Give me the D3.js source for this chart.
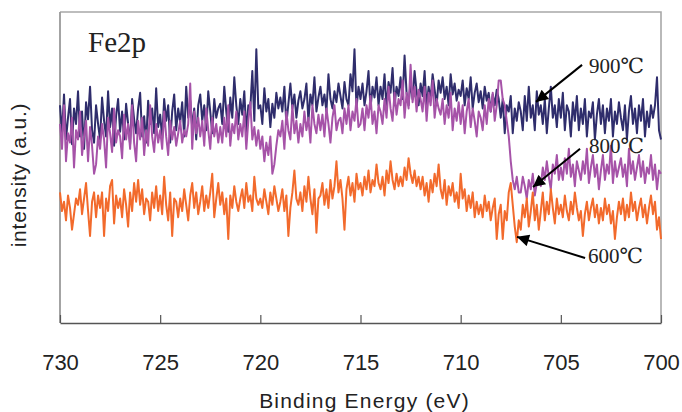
<!DOCTYPE html>
<html>
<head>
<meta charset="utf-8">
<script src="https://cdn.jsdelivr.net/npm/d3@7"></script>
<style>
  body { margin: 0; background: #fff; }
  svg { display: block; }
</style>
</head>
<body>
<svg id="chart" width="682" height="412"></svg>
<script>
// sampling grid of the spectra (binding energy, eV)
const energyStart = 730;
const energyEnd = 700;
const energyStep = 0.1;

const xTicks = [730, 725, 720, 715, 710, 705, 700];

// intensities (a.u.), one value per 0.1 eV from 730 down to 700
const fe900 = [
  700,610,735,590,660,720,575,690,640,745,
  600,680,560,710,655,760,620,580,700,640,
  590,725,650,600,745,630,690,570,665,720,
  615,680,590,705,640,575,720,655,610,690,
  740,600,665,580,715,640,690,610,755,630,
  670,595,720,650,700,580,680,735,620,690,
  645,710,600,760,660,715,630,690,590,700,
  735,650,700,620,745,680,610,720,660,690,
  705,640,760,680,615,725,660,790,700,640,
  720,670,745,610,700,690,810,650,880,690,
  700,640,755,680,720,630,705,660,740,690,
  725,680,760,640,705,770,690,735,660,715,
  745,690,720,770,650,735,700,790,680,725,
  760,700,735,680,800,720,690,745,710,770,
  730,690,775,720,700,800,745,880,690,760,
  720,770,700,745,810,690,760,725,790,700,
  760,720,800,690,775,740,820,700,760,730,
  790,720,860,740,700,775,720,810,745,700,
  770,730,810,690,760,720,800,750,700,780,
  740,790,720,760,700,800,735,770,715,750,
  730,780,700,755,720,790,690,740,770,710,
  745,690,760,715,740,680,735,700,750,720,
  660,720,610,700,680,730,610,690,650,710,
  680,620,730,650,760,660,700,620,745,670,
  700,640,720,610,690,760,660,700,630,720,
  660,740,620,700,680,600,710,650,730,620,
  690,640,720,600,680,660,710,590,670,720,
  640,700,610,690,650,720,600,680,640,710,
  660,620,700,590,680,730,640,690,610,700,
  650,720,600,680,630,700,660,700,790,620,
  590
];

const fe800 = [
  640,560,700,520,610,580,660,500,620,590,
  680,540,600,650,520,630,570,480,510,600,
  560,640,590,500,660,610,550,690,580,620,
  600,530,670,590,640,560,700,580,520,650,
  590,660,540,620,570,700,600,550,640,580,
  620,560,680,600,540,650,590,630,570,610,
  650,580,620,600,640,770,560,680,610,660,
  600,650,570,690,620,560,660,600,640,580,
  630,580,660,600,700,570,640,610,680,590,
  640,600,680,560,650,710,590,630,570,620,
  560,600,520,580,540,600,480,510,570,620,
  600,650,560,680,620,590,700,610,650,580,
  640,600,680,620,660,580,700,640,610,670,
  620,670,600,690,640,580,660,700,620,650,
  660,610,690,640,700,620,680,650,720,630,
  640,690,620,700,660,730,640,680,610,700,
  680,640,720,660,760,690,650,740,670,720,
  700,780,660,740,690,830,710,760,680,750,
  720,680,760,650,740,700,780,660,720,690,
  670,720,640,700,660,740,620,690,650,710,
  640,700,610,680,720,630,690,650,600,680,
  660,620,700,640,720,680,740,650,700,780,
  780,720,700,650,600,520,460,430,470,420,
  420,470,440,400,460,430,480,410,450,470,
  440,500,460,520,470,430,510,480,540,460,
  500,460,530,480,560,470,510,440,520,490,
  460,520,480,560,450,500,540,470,510,430,
  490,540,460,510,480,570,450,520,470,500,
  530,470,510,440,560,480,520,460,500,540,
  470,520,450,500,480,540,460,510,430,490,
  480
];

const fe600 = [
  420,360,390,330,410,370,300,350,400,380,
  430,350,400,450,360,280,390,420,340,410,
  370,420,280,400,360,440,460,320,410,370,
  400,340,430,380,310,420,360,450,390,460,
  380,430,350,400,390,330,420,370,440,360,
  410,350,470,380,330,420,280,400,390,340,
  400,360,430,380,330,410,450,370,420,350,
  390,440,360,410,370,420,480,340,400,450,
  380,420,350,400,270,410,370,440,390,360,
  400,430,370,450,390,410,360,470,400,380,
  400,370,430,390,350,420,380,440,400,360,
  390,430,360,410,280,370,420,490,400,380,
  420,360,440,390,470,400,350,430,290,400,
  410,450,380,430,370,460,400,440,520,420,
  460,400,300,430,470,410,450,390,480,430,
  450,410,470,430,490,420,460,440,510,450,
  430,470,410,490,450,520,460,430,480,440,
  470,440,500,460,530,480,450,490,440,470,
  430,470,410,450,390,460,420,480,440,510,
  430,400,460,380,440,410,450,390,420,370,
  480,400,430,360,410,370,420,340,390,350,
  380,340,410,360,390,330,370,400,270,350,
  380,270,360,330,420,450,380,310,260,330,
  300,380,340,400,310,360,420,330,380,300,
  360,420,330,390,350,430,370,320,400,350,
  380,340,410,360,330,390,350,420,370,330,
  360,280,350,390,330,370,400,340,380,320,
  370,330,400,350,380,320,360,270,340,390,
  350,400,330,380,340,420,360,390,330,370,
  400,340,380,320,370,410,350,390,300,340,
  270
];

const seriesNames = ["900℃", "800℃", "600℃"];
const seriesColors = ["#2f2d6c", "#a653a8", "#f26a2c"];

// annotation anchors in data units: label position, arrow start, arrow tip
const labelAt = [[703.6, 804], [703.6, 547], [703.65, 193]];
const arrowFrom = [[703.94, 830], [704.04, 560], [703.79, 209]];
const arrowTo = [[706.24, 711], [706.39, 437], [707.19, 277]];

const width = 682, height = 412;
const margin = ({top: 12, right: 21, bottom: 89, left: 60});

const energy = d3.range(0, fe900.length).map(i => +(energyStart - i * energyStep).toFixed(1));

const svg = d3.select("#chart");

const xScale = d3.scaleLinear()
  .domain([energyStart, energyEnd])
  .range([margin.left, width - margin.right]);

const yScale = d3.scaleLinear()
  .domain([0, 1000])
  .range([height - margin.bottom, margin.top]);

// frame (top and right)
svg.append("path")
  .attr("d", `M${margin.left},${margin.top}H${width - margin.right}V${height - margin.bottom}`)
  .attr("fill", "none")
  .attr("stroke", "#a8a8a8")
  .attr("stroke-width", 1.6);

// left axis line, no ticks
svg.append("line")
  .attr("x1", margin.left).attr("x2", margin.left)
  .attr("y1", margin.top).attr("y2", height - margin.bottom)
  .attr("stroke", "#9a9a9a")
  .attr("stroke-width", 1.8);

const line = d3.line()
  .x((d, i) => xScale(energy[i]))
  .y(d => yScale(d));

[fe900, fe800, fe600].forEach((s, k) => {
  svg.append("path")
    .datum(s)
    .attr("fill", "none")
    .attr("stroke", seriesColors[k])
    .attr("stroke-width", 2)
    .attr("stroke-linejoin", "round")
    .attr("d", line);
});

// bottom axis, ticks pointing inward
svg.append("g")
  .attr("transform", `translate(0, ${height - margin.bottom})`)
  .call(d3.axisBottom(xScale).tickValues(xTicks).tickSizeInner(-8).tickSizeOuter(0).tickPadding(31))
  .call(g => g.select(".domain").attr("stroke", "#555").attr("stroke-width", 1.4))
  .call(g => g.selectAll(".tick line").attr("stroke", "#555").attr("stroke-width", 1.2))
  .call(g => g.selectAll(".tick text")
    .attr("fill", "#222")
    .style("font-family", "'Liberation Sans', Arial, sans-serif")
    .style("font-size", "22px"));

svg.append("text")
  .attr("x", xScale(715) + 4)
  .attr("y", 408)
  .attr("text-anchor", "middle")
  .attr("fill", "#222")
  .style("font-family", "'Liberation Sans', Arial, sans-serif")
  .style("font-size", "21px")
  .style("letter-spacing", "1.2px")
  .text("Binding Energy (eV)");

svg.append("text")
  .attr("transform", `translate(26, 175) rotate(-90)`)
  .attr("text-anchor", "middle")
  .attr("fill", "#222")
  .style("font-family", "'Liberation Sans', Arial, sans-serif")
  .style("font-size", "21px")
  .style("letter-spacing", "0.8px")
  .text("intensity (a.u.)");

svg.append("text")
  .attr("x", xScale(728.6))
  .attr("y", yScale(871))
  .attr("fill", "#222")
  .style("font-family", "'Liberation Serif', 'Times New Roman', serif")
  .style("font-size", "29px")
  .text("Fe2p");

// arrow heads
svg.append("defs").append("marker")
  .attr("id", "head")
  .attr("viewBox", "0 0 10 10")
  .attr("refX", 10).attr("refY", 5)
  .attr("markerWidth", 7).attr("markerHeight", 6)
  .attr("markerUnits", "strokeWidth")
  .attr("orient", "auto")
  .append("path")
  .attr("d", "M0,0L10,5L0,10z")
  .attr("fill", "#000");

seriesNames.forEach((name, k) => {
  svg.append("line")
    .attr("x1", xScale(arrowFrom[k][0])).attr("y1", yScale(arrowFrom[k][1]))
    .attr("x2", xScale(arrowTo[k][0])).attr("y2", yScale(arrowTo[k][1]))
    .attr("stroke", "#000")
    .attr("stroke-width", 2)
    .attr("marker-end", "url(#head)");

  svg.append("text")
    .attr("x", xScale(labelAt[k][0]))
    .attr("y", yScale(labelAt[k][1]))
    .attr("fill", "#222")
    .style("font-family", "'Liberation Serif', 'DejaVu Serif', serif")
    .style("font-size", "21px")
    .text(name);
});
</script>
</body>
</html>
